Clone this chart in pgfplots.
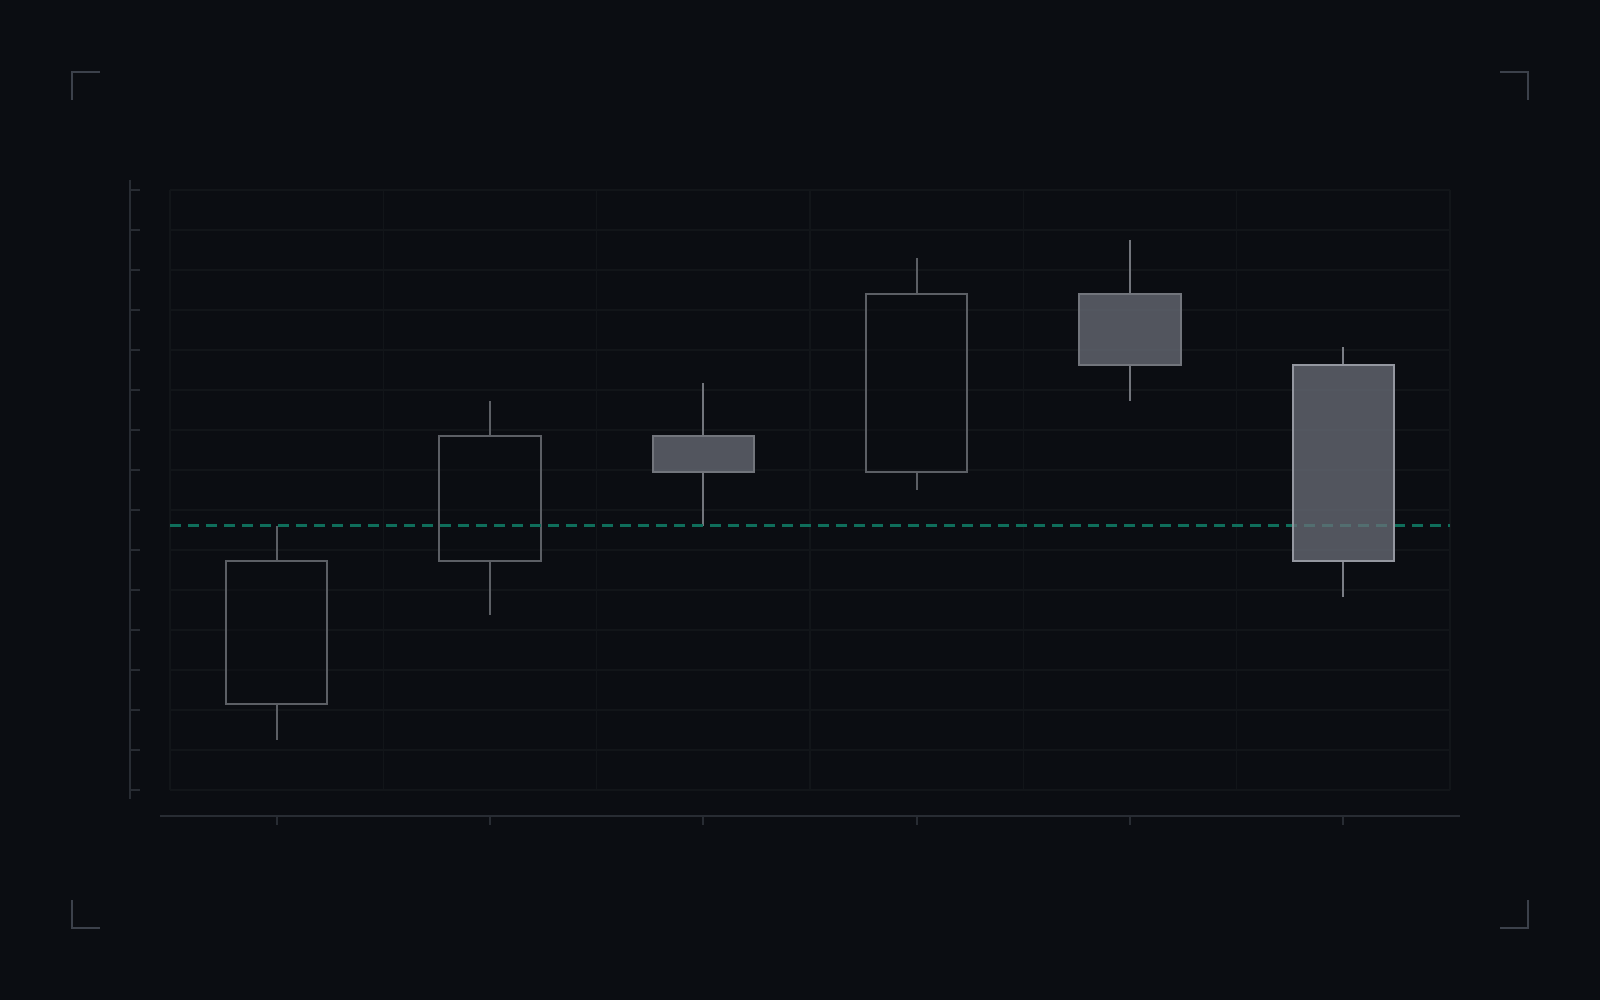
\documentclass[border=0pt]{standalone}
\usepackage{pgfplots}
\pgfplotsset{compat=1.18}
\definecolor{bgc}{HTML}{0B0D12}
\definecolor{gridc}{HTML}{121519}
\definecolor{axc}{HTML}{282C33}
\definecolor{cornc}{HTML}{3C414B}
\definecolor{hollowc}{HTML}{5C5F65}
\definecolor{fillc}{HTML}{6A6E78}
\definecolor{filledline}{HTML}{72757C}
\definecolor{lastline}{HTML}{9497A0}
\definecolor{lastwick}{HTML}{7A7D85}
\definecolor{tealc}{HTML}{0F6E5B}
\begin{document}
\begin{tikzpicture}
\fill[bgc] (0,0) rectangle (16,10);
% corner marks
\begin{scope}[cornc, line width=0.57pt]
\draw (1.00,9.28) -- (0.72,9.28) -- (0.72,9.00);
\draw (15.00,9.28) -- (15.28,9.28) -- (15.28,9.00);
\draw (1.00,0.72) -- (0.72,0.72) -- (0.72,1.00);
\draw (15.00,0.72) -- (15.28,0.72) -- (15.28,1.00);
\end{scope}
% offset axes
\begin{scope}[axc, line width=0.57pt]
\draw (1.30,2.01) -- (1.30,8.20);
\foreach \k in {0,...,15} { \draw (1.30,{2.10+0.4*\k}) -- (1.40,{2.10+0.4*\k}); }
\draw (1.60,1.84) -- (14.60,1.84);
\foreach \i in {0,...,5} { \draw ({1.70+2.133333*(\i+0.5)},1.84) -- ({1.70+2.133333*(\i+0.5)},1.75); }
\end{scope}
\begin{axis}[
  at={(1.70cm,2.10cm)}, anchor=south west,
  scale only axis, width=12.8cm, height=6.0cm,
  xmin=-0.5, xmax=5.5, ymin=95.2, ymax=128.8,
  axis line style={draw=none},
  xtick={-0.5,0.5,1.5,2.5,3.5,4.5,5.5},
  xticklabels={},
  ytick={95.2,97.44,99.68,101.92,104.16,106.4,108.64,110.88,113.12,115.36,117.6,119.84,122.08,124.32,126.56,128.8},
  yticklabels={},
  major tick length=0pt,
  xmajorgrids, ymajorgrids,
  grid style={gridc, line width=0.4pt},
  unbounded coords=jump,
  clip=false,
]
% wicks (low..body bottom, body top..high)
\addplot[hollowc, line width=0.57pt] coordinates {(0,98) (0,100) (0,nan) (0,108) (0,110)};
\addplot[hollowc, line width=0.57pt] coordinates {(1,105) (1,108) (1,nan) (1,115) (1,117)};
\addplot[filledline, line width=0.57pt] coordinates {(2,110) (2,113) (2,nan) (2,115) (2,118)};
\addplot[hollowc, line width=0.57pt] coordinates {(3,112) (3,113) (3,nan) (3,123) (3,125)};
\addplot[filledline, line width=0.57pt] coordinates {(4,117) (4,119) (4,nan) (4,123) (4,126)};
\addplot[lastwick, line width=0.57pt] coordinates {(5,106) (5,108) (5,nan) (5,119) (5,120)};
% hollow (rising) bodies
\addplot[hollowc, line width=0.57pt, fill=bgc, fill opacity=0.4] coordinates {(-0.2375,100) (0.2375,100) (0.2375,108) (-0.2375,108)} -- cycle;
\addplot[hollowc, line width=0.57pt, fill=bgc, fill opacity=0.4] coordinates {(0.7625,108) (1.2375,108) (1.2375,115) (0.7625,115)} -- cycle;
\addplot[hollowc, line width=0.57pt, fill=bgc, fill opacity=0.4] coordinates {(2.7625,113) (3.2375,113) (3.2375,123) (2.7625,123)} -- cycle;
% reference line
\addplot[tealc, line width=0.8pt, dash pattern=on 0.11cm off 0.07cm] coordinates {(-0.5,110) (5.5,110)};
% filled (falling) bodies
\addplot[filledline, line width=0.57pt, fill=fillc, fill opacity=0.75] coordinates {(1.7625,113) (2.2375,113) (2.2375,115) (1.7625,115)} -- cycle;
\addplot[filledline, line width=0.57pt, fill=fillc, fill opacity=0.75] coordinates {(3.7625,119) (4.2375,119) (4.2375,123) (3.7625,123)} -- cycle;
\addplot[lastline, line width=0.6pt, fill=fillc, fill opacity=0.75] coordinates {(4.7625,108) (5.2375,108) (5.2375,119) (4.7625,119)} -- cycle;
\end{axis}
\pgfresetboundingbox
\path[use as bounding box] (0,0) rectangle (16,10);
\end{tikzpicture}
\end{document}
